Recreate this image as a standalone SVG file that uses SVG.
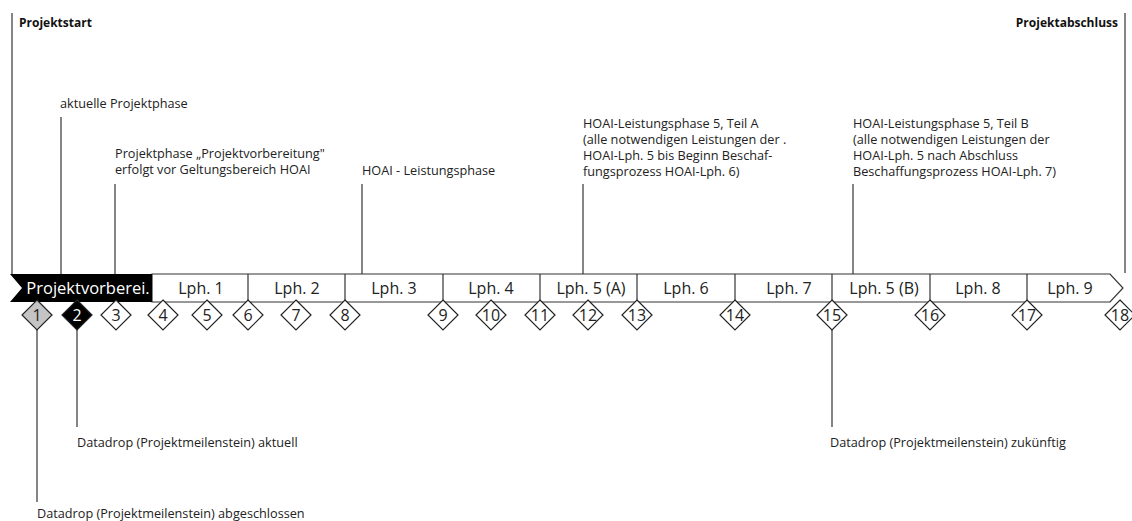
<svg xmlns="http://www.w3.org/2000/svg" width="1132" height="521" viewBox="0 0 1132 521">
<style>
.t{font-family:"Open Sans","Noto Sans","Liberation Sans",sans-serif;font-size:12.7px;fill:#222}
.b{font-family:"Open Sans","Noto Sans","Liberation Sans",sans-serif;font-size:12px;font-weight:bold;fill:#111}
.ph{font-family:"Open Sans","Noto Sans","Liberation Sans",sans-serif;font-size:16px;fill:#222;text-anchor:middle}
.num{font-family:"Open Sans","Noto Sans","Liberation Sans",sans-serif;font-size:16px;fill:#222;text-anchor:middle}
.ln{stroke:#333;stroke-width:1.2;fill:none}
.dm{stroke:#222;stroke-width:1.2;fill:#fff}
.sep{stroke:#333;stroke-width:1.2}
</style>
<defs>
<polygon id="dia" points="0,-15 15,0 0,15 -15,0"/>
</defs>
<rect width="1132" height="521" fill="#fff"/>

<g id="connectors">
<line class="ln" x1="12" y1="13" x2="12" y2="275"/>
<line class="ln" x1="1125" y1="13" x2="1125" y2="273"/>
<line class="ln" x1="61" y1="117" x2="61" y2="275"/>
<line class="ln" x1="115" y1="184" x2="115" y2="275"/>
<line class="ln" x1="362" y1="184" x2="362" y2="285"/>
<line class="ln" x1="583" y1="184" x2="583" y2="288"/>
<line class="ln" x1="853" y1="184" x2="853" y2="290"/>
<line class="ln" x1="37" y1="330" x2="37" y2="502"/>
<line class="ln" x1="77" y1="330" x2="77" y2="427"/>
<line class="ln" x1="832" y1="330" x2="832" y2="427"/>
</g>

<g id="timeline">
<polygon points="152,274 1110,274 1123,288 1110,302 152,302" fill="#fff" stroke="#333" stroke-width="1.2"/>
<g id="phase-pv">
<polygon points="10,274 152,274 152,302 10,302 22,288" fill="#000"/>
<text x="88" y="294" class="ph" style="fill:#fff;font-size:16.5px">Projektvorberei.</text>
</g>
<line class="sep" x1="248" y1="274" x2="248" y2="302"/>
<line class="sep" x1="345" y1="274" x2="345" y2="302"/>
<line class="sep" x1="443" y1="274" x2="443" y2="302"/>
<line class="sep" x1="540" y1="274" x2="540" y2="302"/>
<line class="sep" x1="637" y1="274" x2="637" y2="302"/>
<line class="sep" x1="735" y1="274" x2="735" y2="302"/>
<line class="sep" x1="832" y1="274" x2="832" y2="302"/>
<line class="sep" x1="930" y1="274" x2="930" y2="302"/>
<line class="sep" x1="1027" y1="274" x2="1027" y2="302"/>
<g id="phase-1"><text x="201" y="294" class="ph">Lph. 1</text></g>
<g id="phase-2"><text x="297" y="294" class="ph">Lph. 2</text></g>
<g id="phase-3"><text x="394" y="294" class="ph">Lph. 3</text></g>
<g id="phase-4"><text x="491" y="294" class="ph">Lph. 4</text></g>
<g id="phase-5a"><text x="591" y="294" class="ph">Lph. 5 (A)</text></g>
<g id="phase-6"><text x="686" y="294" class="ph">Lph. 6</text></g>
<g id="phase-7"><text x="789" y="294" class="ph">Lph. 7</text></g>
<g id="phase-5b"><text x="884" y="294" class="ph">Lph. 5 (B)</text></g>
<g id="phase-8"><text x="978" y="294" class="ph">Lph. 8</text></g>
<g id="phase-9"><text x="1070" y="294" class="ph">Lph. 9</text></g>
</g>

<g id="milestones">
<g id="m1"><use href="#dia" x="37" y="315" class="dm" style="fill:#c4c4c4"/><text x="37" y="321" class="num">1</text></g>
<g id="m2"><use href="#dia" x="77" y="315" class="dm" style="fill:#000"/><text x="77" y="321" class="num" style="fill:#fff">2</text></g>
<g id="m3"><use href="#dia" x="116" y="315" class="dm"/><text x="116" y="321" class="num">3</text></g>
<g id="m4"><use href="#dia" x="163" y="315" class="dm"/><text x="163" y="321" class="num">4</text></g>
<g id="m5"><use href="#dia" x="207" y="315" class="dm"/><text x="207" y="321" class="num">5</text></g>
<g id="m6"><use href="#dia" x="248" y="315" class="dm"/><text x="248" y="321" class="num">6</text></g>
<g id="m7"><use href="#dia" x="296" y="315" class="dm"/><text x="296" y="321" class="num">7</text></g>
<g id="m8"><use href="#dia" x="345" y="315" class="dm"/><text x="345" y="321" class="num">8</text></g>
<g id="m9"><use href="#dia" x="443" y="315" class="dm"/><text x="443" y="321" class="num">9</text></g>
<g id="m10"><use href="#dia" x="491" y="315" class="dm"/><text x="491" y="321" class="num">10</text></g>
<g id="m11"><use href="#dia" x="540" y="315" class="dm"/><text x="540" y="321" class="num">11</text></g>
<g id="m12"><use href="#dia" x="588" y="315" class="dm"/><text x="588" y="321" class="num">12</text></g>
<g id="m13"><use href="#dia" x="637" y="315" class="dm"/><text x="637" y="321" class="num">13</text></g>
<g id="m14"><use href="#dia" x="735" y="315" class="dm"/><text x="735" y="321" class="num">14</text></g>
<g id="m15"><use href="#dia" x="832" y="315" class="dm"/><text x="832" y="321" class="num">15</text></g>
<g id="m16"><use href="#dia" x="930" y="315" class="dm"/><text x="930" y="321" class="num">16</text></g>
<g id="m17"><use href="#dia" x="1027" y="315" class="dm"/><text x="1027" y="321" class="num">17</text></g>
<g id="m18"><use href="#dia" x="1120" y="315" class="dm"/><text x="1120" y="321" class="num">18</text></g>
</g>

<g id="labels">
<g id="lbl-start"><text x="19" y="27" class="b">Projektstart</text></g>
<g id="lbl-end"><text x="1118" y="27" class="b" text-anchor="end">Projektabschluss</text></g>
<g id="lbl-aktuell"><text x="60" y="108" class="t">aktuelle Projektphase</text></g>
<g id="lbl-pv"><text x="115" y="158" class="t">Projektphase „Projektvorbereitung"</text><text x="115" y="174" class="t">erfolgt vor Geltungsbereich HOAI</text></g>
<g id="lbl-hoai"><text x="362" y="175" class="t">HOAI - Leistungsphase</text></g>
<g id="lbl-5a"><text x="583" y="128" class="t">HOAI-Leistungsphase 5, Teil A</text><text x="583" y="144" class="t">(alle notwendigen Leistungen der .</text><text x="583" y="160" class="t">HOAI-Lph. 5 bis Beginn Beschaf-</text><text x="583" y="176" class="t">fungsprozess HOAI-Lph. 6)</text></g>
<g id="lbl-5b"><text x="853" y="128" class="t">HOAI-Leistungsphase 5, Teil B</text><text x="853" y="144" class="t">(alle notwendigen Leistungen der</text><text x="853" y="160" class="t">HOAI-Lph. 5 nach Abschluss</text><text x="853" y="176" class="t">Beschaffungsprozess HOAI-Lph. 7)</text></g>
<g id="lbl-dd-akt"><text x="77" y="447" class="t">Datadrop (Projektmeilenstein) aktuell</text></g>
<g id="lbl-dd-zuk"><text x="830" y="447" class="t">Datadrop (Projektmeilenstein) zukünftig</text></g>
<g id="lbl-dd-abg"><text x="37" y="518" class="t">Datadrop (Projektmeilenstein) abgeschlossen</text></g>
</g>
</svg>
